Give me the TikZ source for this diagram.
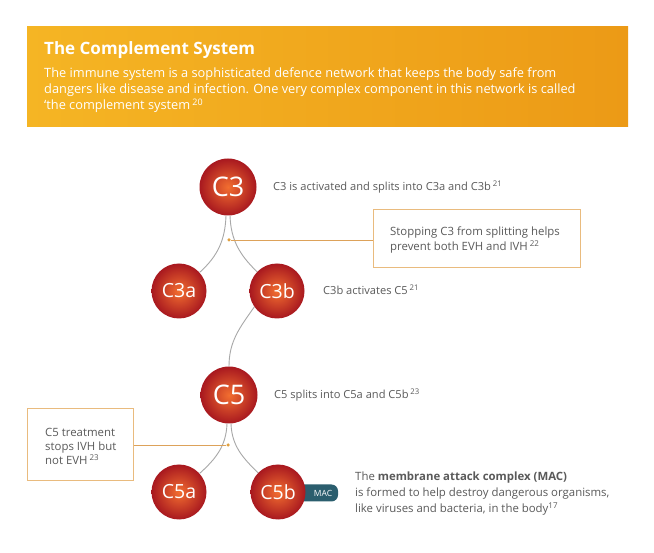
\documentclass[tikz,border=0pt]{standalone}
\usepackage{fontspec}
\setmainfont{Open Sans}
\definecolor{banl}{HTML}{F5B524}
\definecolor{banr}{HTML}{EC9A16}
\definecolor{ballin}{HTML}{F26E30}
\definecolor{ballout}{HTML}{A8181F}
\definecolor{txtgray}{HTML}{5A5A5A}
\definecolor{boxorange}{HTML}{E9BB7E}
\definecolor{leadorange}{HTML}{DDA25A}
\definecolor{linegray}{HTML}{A8A8A8}
\definecolor{dotorange}{HTML}{E0A040}
\definecolor{macblue}{HTML}{2B5E6E}
\begin{document}
\begin{tikzpicture}[x=1pt,y=1pt,
  ball/.style={circle, minimum size=57pt, inner sep=0pt, shading=radial, inner color=ballin, outer color=ballout, text=white, font=\fontsize{27}{27}\selectfont},
  sball/.style={ball, minimum size=55pt, font=\fontsize{19.5}{19.5}\selectfont},
  gtext/.style={text=txtgray, font=\fontsize{11.1}{15}\selectfont, anchor=west, inner sep=0pt, align=left},
  conn/.style={draw=linegray, line width=0.9pt},
  lead/.style={draw=leadorange, line width=0.8pt},
  notebox/.style={draw=boxorange, line width=1pt, fill=white, inner sep=0pt},
  bdot/.style={circle, fill=dotorange, minimum size=3.5pt, inner sep=0pt},
  wtext/.style={text=white, anchor=base west, inner sep=0pt}
]
\useasboundingbox (0,0) rectangle (654,-553);
\fill[white] (0,0) rectangle (654,-553);
% banner
\shade[left color=banl, right color=banr] (27,-27) rectangle (628,-127);
\node[wtext, font=\bfseries\fontsize{17}{17}\selectfont] (title) at (44,-55) {The Complement System};
\node[wtext, font=\fontsize{12.8}{12.8}\selectfont] (l1) at (44,-78) {The immune system is a sophisticated defence network that keeps the body safe from};
\node[wtext, font=\fontsize{12.8}{12.8}\selectfont] (l2) at (44,-94) {dangers like disease and infection. One very complex component in this network is called};
\node[wtext, font=\fontsize{12.8}{12.8}\selectfont] (l3) at (44,-110) {‘the complement system\,\textsuperscript{20}};

% MAC badge (behind C5b)
\node[fill=macblue, rounded corners=6.5pt, minimum width=42pt, minimum height=17pt, inner sep=0pt] (macbg) at (317,-493) {};
\node[text=white, font=\fontsize{8.5}{8.5}\selectfont, inner sep=0pt] (mac) at (323,-493) {MAC};

% circles
\node[ball] (c3) at (228,-187) {C3};
\node[sball] (c3a) at (179,-291) {C3a};
\node[sball] (c3b) at (277,-291) {C3b};
\node[ball] (c5) at (229,-395) {C5};
\node[sball] (c5a) at (179,-492) {C5a};
\node[sball] (c5b) at (278,-492) {C5b};

% connectors
\draw[conn] (c3.266) to[out=-92,in=42] (c3a.42);
\draw[conn] (c3.274) to[out=-88,in=136] (c3b.136);
\draw[conn] (c3b.215) to[out=235,in=90] (c5.north);
\draw[conn] (c5.266) to[out=-92,in=42] (c5a.42);
\draw[conn] (c5.274) to[out=-88,in=136] (c5b.136);

% note boxes
\node[notebox, minimum width=207pt, minimum height=58pt] (b1) at (476.5,-239) {};
\node[gtext, font=\fontsize{11.4}{15}\selectfont] (b1t) at (390,-240) {Stopping C3 from splitting helps\\prevent both EVH and IVH\,\textsuperscript{22}};
\node[notebox, minimum width=106pt, minimum height=72pt] (b2) at (80,-445) {};
\node[gtext, font=\fontsize{11.4}{14}\selectfont] (b2t) at (45,-446) {C5 treatment\\stops IVH but\\not EVH\,\textsuperscript{23}};

\node[bdot] (d1) at (229,-240) {};
\node[bdot] (d2) at (228,-445) {};
\draw[lead] (d1) -- (d1 -| b1.west);
\draw[lead] (d2) -- (d2 -| b2.east);

% descriptions
\node[gtext] (t1) at (273,-187) {C3 is activated and splits into C3a and C3b\,\textsuperscript{21}};
\node[gtext] (t2) at (323,-290) {C3b activates C5\,\textsuperscript{21}};
\node[gtext] (t3) at (274,-395) {C5 splits into C5a and C5b\,\textsuperscript{23}};
\node[gtext, font=\fontsize{11.4}{16}\selectfont] (t4) at (355,-494) {The \textbf{membrane attack complex (MAC)}\\is formed to help destroy dangerous organisms,\\like viruses and bacteria, in the body\textsuperscript{17}};
\end{tikzpicture}
\end{document}
